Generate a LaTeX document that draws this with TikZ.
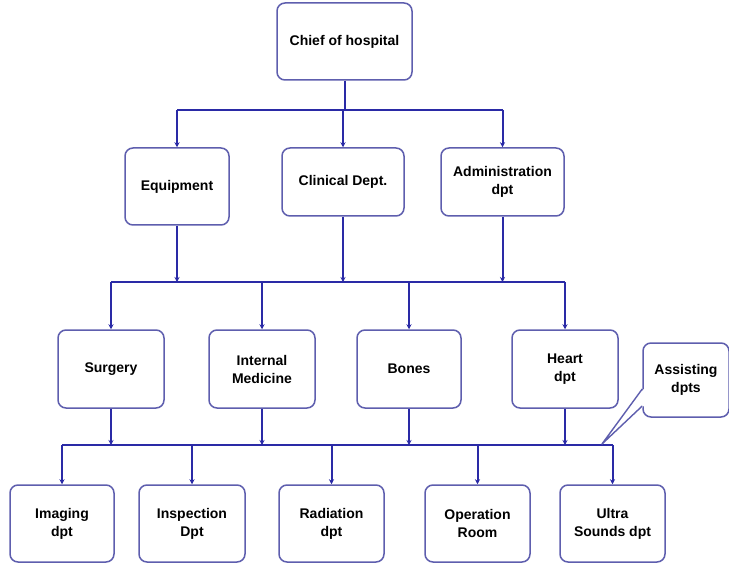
\documentclass[tikz,border=0pt]{standalone}
\usepackage{fontspec}
\setmainfont{Liberation Sans}
\usetikzlibrary{arrows.meta}
\definecolor{linkblue}{HTML}{2A2AA6}
\definecolor{boxedge}{HTML}{5E5EAE}
\tikzset{
  unit/.style={draw=boxedge, line width=1.5pt, rounded corners=8pt, fill=white,
    align=center, font=\fontsize{14}{18}\selectfont\bfseries, inner sep=0pt},
  link/.style={draw=linkblue, line width=2pt},
  arr/.style={link, -{Stealth[length=5pt,width=5pt]}},
}
\begin{document}
\begin{tikzpicture}[x=1pt,y=-1pt]
\useasboundingbox[fill=white] (0,0) rectangle (729,567);

% top level
\node[unit, minimum width=135pt, minimum height=77pt] (chief) at (344.5,41.5) {Chief of hospital};

% second level
\node[unit, minimum width=104pt, minimum height=77pt] (equip) at (177,186.5) {Equipment};
\node[unit, minimum width=122pt, minimum height=68pt] (clin) at (343,182) {Clinical  Dept.};
\node[unit, minimum width=123pt, minimum height=68pt] (admin) at (502.5,182) {Administration\\dpt};

% third level
\node[unit, minimum width=106pt, minimum height=78pt] (surg) at (111,369) {Surgery};
\node[unit, minimum width=106pt, minimum height=78pt] (intm) at (262,369) {Internal\\Medicine};
\node[unit, minimum width=104pt, minimum height=78pt] (bones) at (409,369) {Bones};
\node[unit, minimum width=106pt, minimum height=78pt] (heart) at (565,369) {Heart\\dpt};

% assisting departments
\node[unit, minimum width=104pt, minimum height=77pt] (img) at (62,523.5) {Imaging\\dpt};
\node[unit, minimum width=106pt, minimum height=77pt] (insp) at (192,523.5) {Inspection\\Dpt};
\node[unit, minimum width=105pt, minimum height=77pt] (rad) at (331.5,523.5) {Radiation\\dpt};
\node[unit, minimum width=105pt, minimum height=77pt] (oper) at (477.5,523.5) {Operation\\Room};
\node[unit, minimum width=105pt, minimum height=77pt] (ultra) at (612.5,523.5) {Ultra\\Sounds dpt};

% bus lines
\coordinate (busA) at (0,110);
\coordinate (busB) at (0,282);
\coordinate (busC) at (0,445);

% chief -> second level
\draw[link] (chief.south) -- (chief.south |- busA);
\draw[link] (equip.north |- busA) -- (admin.north |- busA);
\draw[arr] (equip.north |- busA) -- (equip.north);
\draw[arr] (clin.north |- busA) -- (clin.north);
\draw[arr] (admin.north |- busA) -- (admin.north);

% second level -> third level
\draw[arr] (equip.south) -- (equip.south |- busB);
\draw[arr] (clin.south) -- (clin.south |- busB);
\draw[arr] (admin.south) -- (admin.south |- busB);
\draw[link] (surg.north |- busB) -- (heart.north |- busB);
\draw[arr] (surg.north |- busB) -- (surg.north);
\draw[arr] (intm.north |- busB) -- (intm.north);
\draw[arr] (bones.north |- busB) -- (bones.north);
\draw[arr] (heart.north |- busB) -- (heart.north);

% third level -> assisting departments
\draw[arr] (surg.south) -- (surg.south |- busC);
\draw[arr] (intm.south) -- (intm.south |- busC);
\draw[arr] (bones.south) -- (bones.south |- busC);
\draw[arr] (heart.south) -- (heart.south |- busC);
\draw[link] (img.north |- busC) -- (ultra.north |- busC);
\draw[arr] (img.north |- busC) -- (img.north);
\draw[arr] (insp.north |- busC) -- (insp.north);
\draw[arr] (rad.north |- busC) -- (rad.north);
\draw[arr] (oper.north |- busC) -- (oper.north);
\draw[arr] (ultra.north |- busC) -- (ultra.north);

% callout
\node[unit, minimum width=86pt, minimum height=74pt] (assist) at (686,380) {Assisting\\dpts};
\coordinate (tip) at (602,444);
\coordinate (pa) at (assist.west |- 0,389);
\coordinate (pb) at (assist.west |- 0,406);
\fill[white] ([xshift=1.5pt]pa) -- (tip) -- ([xshift=1.5pt]pb) -- cycle;
\draw[draw=boxedge, line width=1.4pt, line join=round] (pa) -- (tip) -- (pb);
\end{tikzpicture}
\end{document}
